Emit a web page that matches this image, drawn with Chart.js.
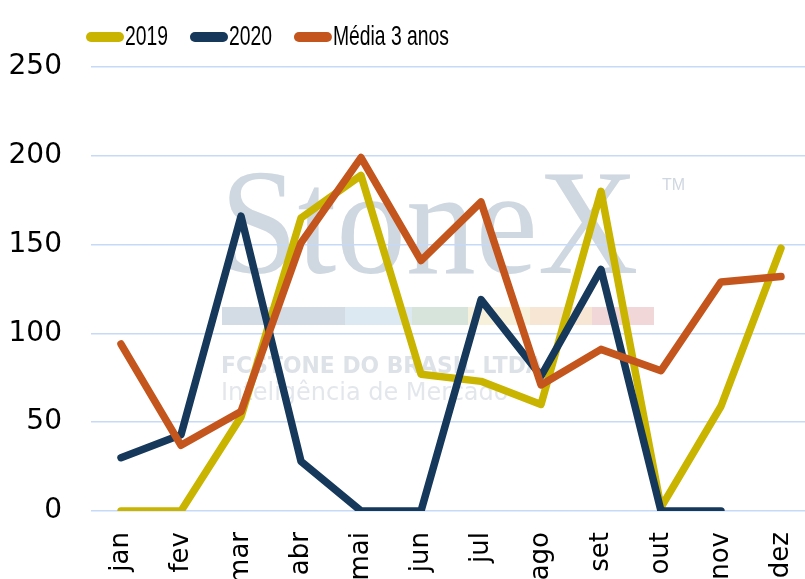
<!DOCTYPE html>
<html>
<head>
<meta charset="utf-8">
<script src="https://cdn.jsdelivr.net/npm/chart.js@4"></script>
<style>
  html, body { margin: 0; padding: 0; background: #fff; overflow: hidden; }
  #wrap { position: relative; width: 811px; height: 601px; }
</style>
</head>
<body>
<div id="wrap"><canvas id="c" width="811" height="601"></canvas></div>
<script>
const categories = ['jan','fev','mar','abr','mai','jun','jul','ago','set','out','nov','dez'];
const values2019 = [0, 0, 53, 165, 189, 77, 73, 60, 180, 2, 59, 148];
const values2020 = [30, 43, 166, 28, 0, 0, 119, 76, 136, 0, 0, null];
const valuesMedia = [94, 37, 56, 151, 199, 141, 174, 71, 91, 79, 129, 132];
const yTicks = [0, 50, 100, 150, 200, 250];
const seriesNames = ['2019', '2020', 'Média 3 anos'];

const colors = ['#C9B400', '#15385B', '#C4561D'];

const watermark = {
  id: 'watermark',
  beforeDraw(chart) {
    const ctx = chart.ctx;
    ctx.save();
    ctx.fillStyle = '#CFD7E0';
    ctx.font = '150px "Liberation Serif"';
    ctx.textBaseline = 'alphabetic';
    ctx.save();
    ctx.translate(220, 273);
    ctx.scale(0.93, 1);
    ctx.fillText('StoneX', 0, 0);
    ctx.restore();
    ctx.font = '16px "Liberation Sans"';
    ctx.fillText('TM', 662, 190);
    const segs = [[222,345,'#D3DBE4'],[345,412,'#DDE9F2'],[412,468,'#D7E4DC'],[468,530,'#F7F1DC'],[530,592,'#F6E6D3'],[592,654,'#F1D7D8']];
    segs.forEach(s => { ctx.fillStyle = s[2]; ctx.fillRect(s[0], 307, s[1]-s[0], 18); });
    ctx.fillStyle = '#DDE2E8';
    ctx.save();
    ctx.translate(221, 373);
    ctx.scale(0.95, 1);
    ctx.font = 'bold 23px "DejaVu Sans"';
    ctx.fillText('FCSTONE DO BRASIL LTDA', 0, 0);
    ctx.restore();
    ctx.fillStyle = '#E3E7EC';
    ctx.font = '24px "DejaVu Sans"';
    ctx.fillText('Inteligência de Mercado', 221, 400);
    ctx.restore();
  }
};

const customLegend = {
  id: 'customLegend',
  afterDraw(chart) {
    const ctx = chart.ctx;
    ctx.save();
    let x = 86;
    const cy = 37;
    const sx = 0.69;
    ctx.font = '28px "Liberation Sans"';
    ctx.textBaseline = 'alphabetic';
    chart.data.datasets.forEach(ds => {
      ctx.strokeStyle = ds.borderColor;
      ctx.lineWidth = 10;
      ctx.lineCap = 'round';
      ctx.beginPath();
      ctx.moveTo(x + 5, cy);
      ctx.lineTo(x + 33, cy);
      ctx.stroke();
      const tx = x + 39;
      ctx.fillStyle = '#000';
      ctx.save();
      ctx.translate(tx, 45);
      ctx.scale(sx, 1);
      ctx.fillText(ds.label, 0, 0);
      ctx.restore();
      const w = ctx.measureText(ds.label).width * sx;
      x = tx + w + 22;
    });
    ctx.restore();
  }
};

const mk = (i, data, order) => ({
  label: seriesNames[i],
  data: data,
  borderColor: colors[i],
  backgroundColor: colors[i],
  borderWidth: 7.5,
  pointRadius: 0,
  pointHoverRadius: 0,
  tension: 0,
  borderCapStyle: 'round',
  borderJoinStyle: 'round',
  spanGaps: false,
  order: order
});

new Chart(document.getElementById('c'), {
  type: 'line',
  data: {
    labels: categories,
    datasets: [mk(0, values2019, 3), mk(1, values2020, 2), mk(2, valuesMedia, 1)]
  },
  plugins: [watermark, customLegend],
  options: {
    responsive: false,
    animation: false,
    layout: { padding: { top: 67, right: 0, left: 0, bottom: 0 } },
    plugins: { legend: { display: false }, tooltip: { enabled: false }, title: { display: false } },
    scales: {
      x: {
        offset: true,
        grid: { display: false, drawTicks: false },
        border: { display: false },
        ticks: {
          color: '#000',
          font: { family: '"DejaVu Sans"', size: 26 },
          minRotation: 90, maxRotation: 90, padding: 21, autoSkip: false
        },
        afterFit(scale) { scale.height = 90; scale.paddingRight = 0; scale.paddingLeft = 0; }
      },
      y: {
        min: 0, max: 250,
        afterBuildTicks(scale) { scale.ticks = yTicks.map(v => ({ value: v })); },
        grid: { color: '#C6D9F6', lineWidth: 1.5, drawTicks: false },
        border: { display: false },
        ticks: {
          color: '#000',
          font: { family: '"DejaVu Sans"', size: 28 },
          padding: 29
        },
        afterFit(scale) { scale.width = 91; scale.paddingTop = 0; scale.paddingBottom = 0; }
      }
    }
  }
});
</script>
</body>
</html>
